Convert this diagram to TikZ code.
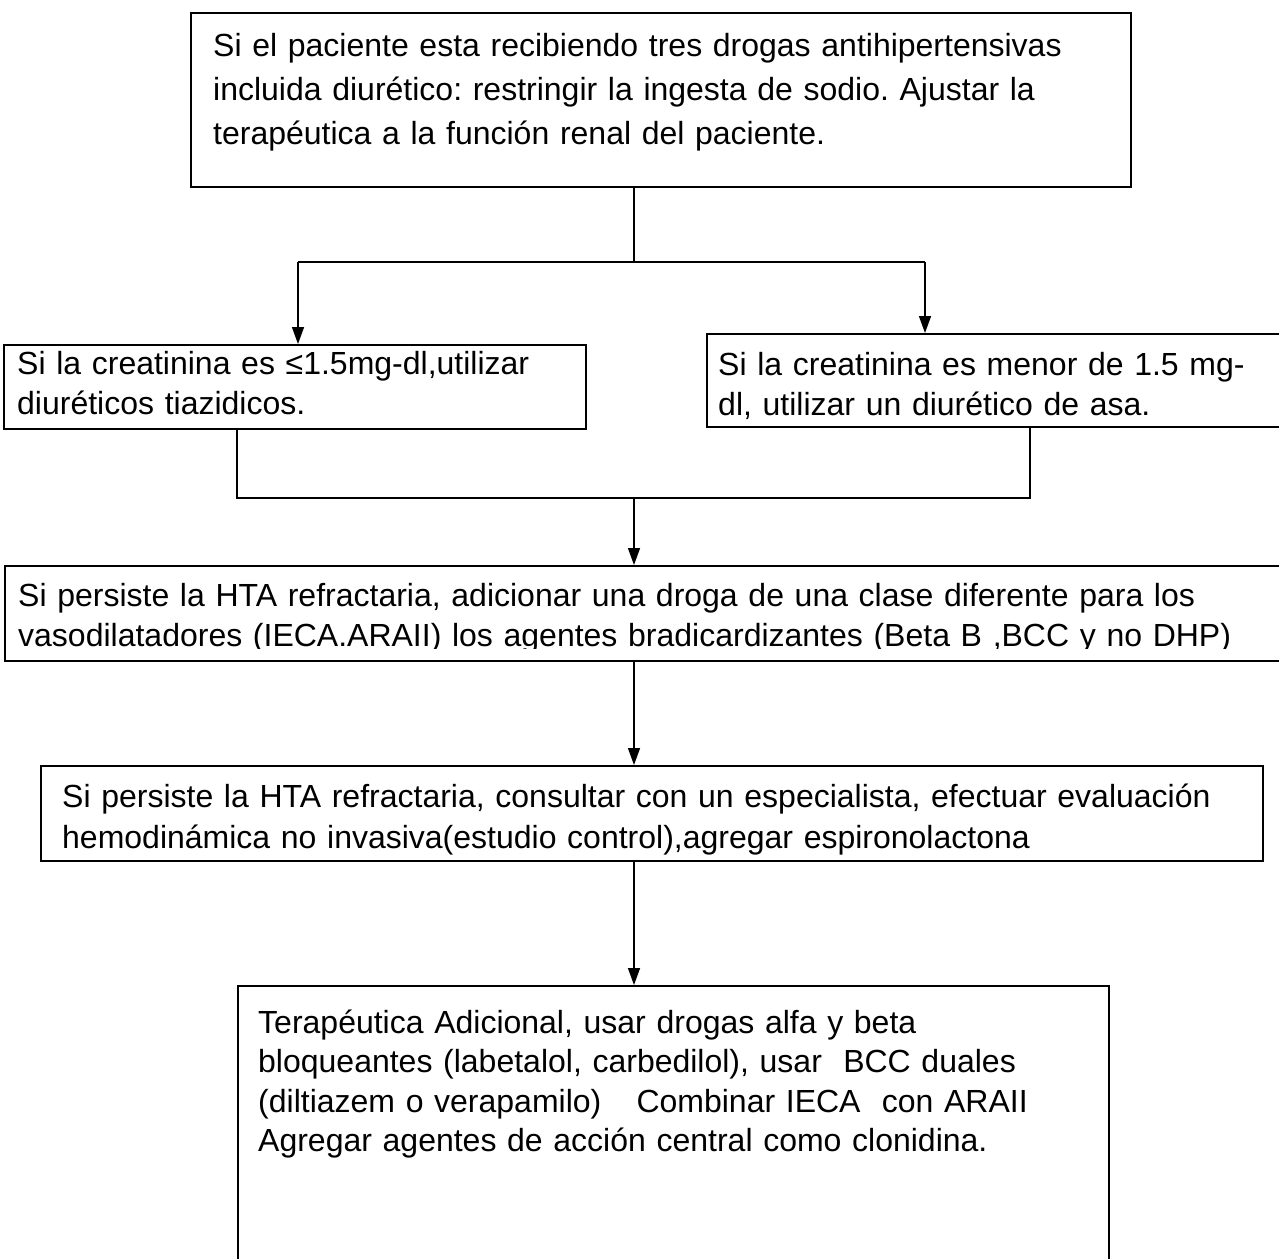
\documentclass[tikz,border=0pt]{standalone}
\usepackage{fontspec}
\setmainfont{Liberation Sans}
\usetikzlibrary{arrows.meta}
\frenchspacing
\tikzset{
  box/.style={draw=black, line width=2pt, anchor=north west, inner sep=0pt, fill=none},
  txt/.style={anchor=base west, inner sep=0pt, text width=1250pt, align=left},
  link/.style={draw=black, line width=1.5pt},
  arr/.style={link, -{Triangle[length=17pt,width=12pt]}}
}
\begin{document}
\begin{tikzpicture}[x=1pt, y=-1pt]
\useasboundingbox (0,0) rectangle (1279,1258);
\clip (0,0) rectangle (1279,1258);

% boxes
\node[box, minimum width=940pt, minimum height=174pt] (b1) at (190,12) {};
\node[box, minimum width=582pt, minimum height=84pt] (b2a) at (3,344) {};
\node[box, minimum width=590pt, minimum height=93pt] (b2b) at (706,333) {};
\node[box, minimum width=1290pt, minimum height=95pt] (b3) at (4,565) {};
\node[box, minimum width=1222pt, minimum height=95pt] (b4) at (40,765) {};
\node[box, minimum width=871pt, minimum height=300pt] (b5) at (237,985) {};

% texts
\node[txt, font=\fontsize{32}{44}\selectfont] (t1) at (213,56)
  {Si el paciente esta recibiendo tres drogas antihipertensivas\\
   incluida diurético: restringir la ingesta de sodio. Ajustar la\\
   terapéutica a la función renal del paciente.};
\node[txt, font=\fontsize{32}{40}\selectfont] (t2a) at (17,374)
  {Si la creatinina es ≤1.5mg-dl,utilizar\\
   diuréticos tiazidicos.};
\node[txt, font=\fontsize{32}{40}\selectfont] (t2b) at (718,375)
  {Si la creatinina es menor de 1.5 mg-\\
   dl, utilizar un diurético de asa.};
\begin{scope}
  \clip (4,566) rectangle (1279,648);
  \node[txt, font=\fontsize{32}{40}\selectfont] (t3) at (18,606)
    {Si persiste la HTA refractaria, adicionar una droga de una clase diferente para los\\
     vasodilatadores (IECA.ARAII) los agentes bradicardizantes (Beta B ,BCC y no DHP)};
\end{scope}
\node[txt, font=\fontsize{32}{41}\selectfont] (t4) at (62,807)
  {Si persiste la HTA refractaria, consultar con un especialista, efectuar evaluación\\
   hemodinámica no invasiva(estudio control),agregar espironolactona};
\node[txt, font=\fontsize{32}{39.5}\selectfont] (t5) at (258,1033)
  {Terapéutica Adicional, usar drogas alfa y beta\\
   bloqueantes (labetalol, carbedilol), usar\ \ BCC duales\\
   (diltiazem o verapamilo)\hspace{1.1em}Combinar IECA\ \ con ARAII\\
   Agregar agentes de acción central como clonidina.};

% junction points
\coordinate (j1) at (634,262);
\coordinate (jl) at (298,262);
\coordinate (jr) at (925,262);
\coordinate (k1) at (634,498);
\coordinate (kl) at (237,498);
\coordinate (kr) at (1030,498);

% connectors
\draw[link] (b1.south -| j1) -- (j1);
\draw[link] (jl) -- (jr);
\draw[arr] (jl) -- (jl |- b2a.north);
\draw[arr] (jr) -- (jr |- b2b.north);
\draw[link] (b2a.south -| kl) -- (kl) -- (kr) -- (b2b.south -| kr);
\draw[arr] (k1) -- (k1 |- b3.north);
\draw[arr] (b3.south -| k1) -- (k1 |- b4.north);
\draw[arr] (b4.south -| k1) -- (k1 |- b5.north);
\end{tikzpicture}
\end{document}
